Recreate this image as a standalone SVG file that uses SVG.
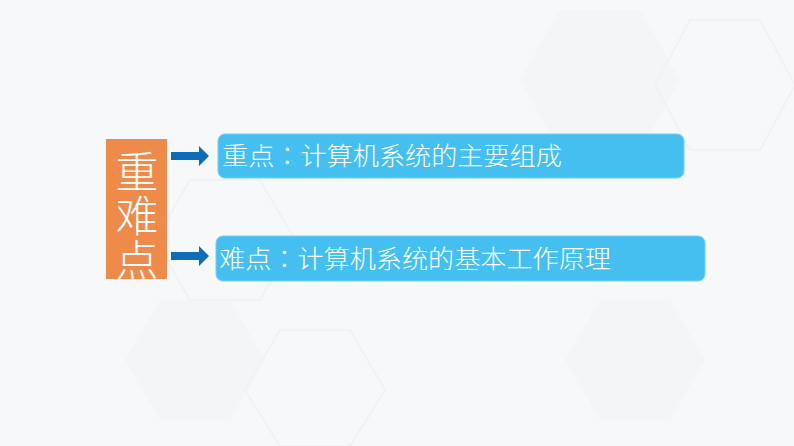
<svg xmlns="http://www.w3.org/2000/svg" width="794" height="446" viewBox="0 0 794 446">
<style>
.bg{fill:#f7f8f9}
.hex{fill:none;stroke:#f1f2f4;stroke-width:2}
.hexf{fill:#f4f5f6;stroke:none}
.box{fill:#45bfef;stroke:#74cff3;stroke-width:1}
.lbl{font-family:"Noto Sans CJK TC","Noto Sans CJK SC",sans-serif;font-weight:300;font-size:25px;fill:#ffffff}
.side{font-family:"Noto Sans CJK SC",sans-serif;font-weight:300;font-size:43px;fill:#ffffff}
.arr{fill:#0f6cb6}
</style>
<defs>
<clipPath id="sideClip"><rect x="106" y="139" width="61" height="140"/></clipPath>
</defs>
<rect class="bg" x="0" y="0" width="794" height="446"/>
<g id="background">
<polygon class="hexf" points="560,10 640,10 680,80 640,150 560,150 520,80"/>
<polygon class="hex" points="690,20 760,20 795,85 760,150 690,150 655,85"/>
<polygon class="hexf" points="160,300 230,300 265,360 230,420 160,420 125,360"/>
<polygon class="hex" points="280,330 350,330 385,390 350,446 280,446 245,390"/>
<polygon class="hex" points="190,180 260,180 295,240 260,300 190,300 155,240"/>
<polygon class="hexf" points="600,300 670,300 705,360 670,420 600,420 565,360"/>
</g>
<g id="connectors">
<polygon id="arrow1" class="arr" points="171,152 199,152 199,146 209,156 199,166 199,160 171,160"/>
<polygon id="arrow2" class="arr" points="171,252 199,252 199,246 209,256 199,266 199,260 171,260"/>
</g>
<g id="side">
<rect x="106" y="139" width="61" height="140" fill="#ee8a4a"/>
<g clip-path="url(#sideClip)">
<text class="side" x="137" y="150" writing-mode="tb" letter-spacing="1">重难点</text>
</g>
</g>
<g id="node1">
<rect class="box" x="218" y="134" width="466" height="44" rx="7"/>
<text class="lbl" x="222" y="165" textLength="340" lengthAdjust="spacingAndGlyphs">重点：计算机系统的主要组成</text>
</g>
<g id="node2">
<rect class="box" x="216" y="236" width="489" height="45" rx="7"/>
<text class="lbl" x="219" y="268" textLength="392" lengthAdjust="spacingAndGlyphs">难点：计算机系统的基本工作原理</text>
</g>
</svg>
